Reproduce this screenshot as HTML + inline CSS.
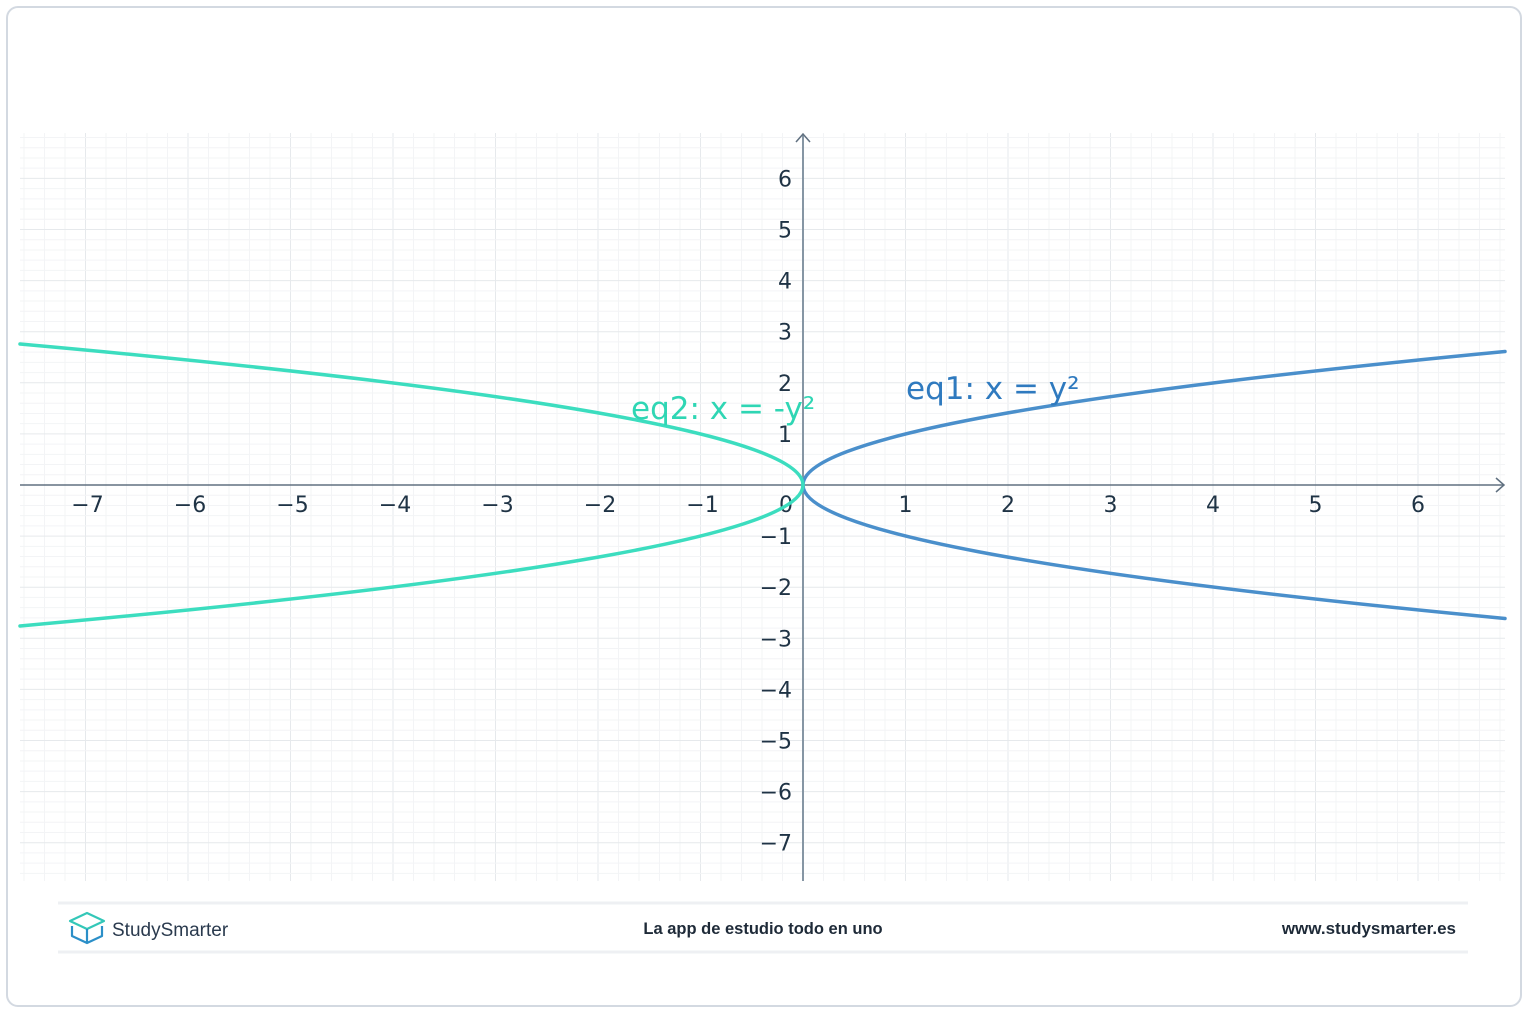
<!DOCTYPE html>
<html><head><meta charset="utf-8"><style>
html,body{margin:0;padding:0;background:#fff;}
body{width:1527px;height:1012px;position:relative;overflow:hidden;font-family:"DejaVu Sans","Liberation Sans",sans-serif;}
.frame{position:absolute;left:6px;top:6px;width:1516px;height:1001px;border:2px solid #d3d9e1;border-radius:12px;box-sizing:border-box;}
</style></head><body>
<div class="frame"></div>
<svg width="1527" height="1012" style="position:absolute;left:0;top:0" xmlns="http://www.w3.org/2000/svg">
<g id="grid"></g>
<g font-family="DejaVu Sans, sans-serif" font-size="22" fill="#1f3345" id="labels"></g>
<line x1="20" y1="485" x2="1503" y2="485" stroke="#607080" stroke-width="1.6"/>
<polyline points="1496,478 1504,485 1496,492" fill="none" stroke="#607080" stroke-width="1.5"/>
<line x1="803" y1="134" x2="803" y2="881" stroke="#8696a4" stroke-width="2"/>
<polyline points="796,142 803,134 810,142" fill="none" stroke="#607080" stroke-width="1.5"/>
<g fill="none" stroke-width="3.5" stroke-linecap="round">
<path d="M803,485 Q803,418.3 1505,351.5" stroke="#4a8fcb"/>
<path d="M803,485 Q803,551.7 1505,618.5" stroke="#4a8fcb"/>
<path d="M803,485 Q803,414.5 20,344" stroke="#3cddbf"/>
<path d="M803,485 Q803,555.5 20,626" stroke="#3cddbf"/>
</g>
<text x="906" y="399" font-family="DejaVu Sans, sans-serif" font-size="31" fill="#2f7abf">eq1: x = y²</text>
<text x="631" y="419" font-family="DejaVu Sans, sans-serif" font-size="31" fill="#2fd6b4">eq2: x = -y²</text>
<line x1="58" y1="903" x2="1468" y2="903" stroke="#eef0f3" stroke-width="3"/>
<line x1="58" y1="952" x2="1468" y2="952" stroke="#eef0f3" stroke-width="3"/>
<g fill="none" stroke-width="2.2" stroke-linejoin="round">
<path d="M87,913 L104,921 L87,929 L70,921 Z" stroke="#33c7b8"/>
<path d="M72,926 L72,936 L87,943 L102,936 L102,926 M87,929 L87,943" stroke="#2b8fc8"/>
</g>
<text x="112" y="936" font-family="Liberation Sans, sans-serif" font-size="19" fill="#2a3a4e">StudySmarter</text>
<text x="763" y="934" text-anchor="middle" font-family="Liberation Sans, sans-serif" font-weight="bold" font-size="16.5" fill="#1e2a38">La app de estudio todo en uno</text>
<text x="1456" y="934" text-anchor="end" font-family="Liberation Sans, sans-serif" font-weight="bold" font-size="17" fill="#1e2a38">www.studysmarter.es</text>
</svg>
<script>
var ns="http://www.w3.org/2000/svg",g=document.getElementById('grid'),L=document.getElementById('labels');
function ln(x1,y1,x2,y2,c,w){var e=document.createElementNS(ns,'line');e.setAttribute('x1',x1);e.setAttribute('y1',y1);e.setAttribute('x2',x2);e.setAttribute('y2',y2);e.setAttribute('stroke',c);e.setAttribute('stroke-width',w);g.appendChild(e);}
function tx(x,y,s,a){var e=document.createElementNS(ns,'text');e.setAttribute('x',x);e.setAttribute('y',y);e.setAttribute('text-anchor',a);e.textContent=s;L.appendChild(e);}
var ox=803,oy=485,ux=102.5,uy=51.1;
for(var i=-40;i<=35;i++){var x=ox+i*ux/5;if(x<20||x>1505)continue;ln(x,133,x,881,i%5==0?'#e6e9ec':'#f3f4f6',1);}
for(var j=-40;j<=35;j++){var y=oy-j*uy/5;if(y<133||y>881)continue;ln(20,y,1505,y,j%5==0?'#e6e9ec':'#f3f4f6',1);}
for(var k=-7;k<=6;k++){if(k==0)continue;tx(ox+k*ux+(k<0?2:0),512,(k<0?'\u2212':'')+Math.abs(k),'middle');}
tx(786,512,'0','middle');
for(var k=-7;k<=6;k++){if(k==0)continue;tx(792,oy-k*uy+8,(k<0?'\u2212':'')+Math.abs(k),'end');}
</script>
</body></html>
